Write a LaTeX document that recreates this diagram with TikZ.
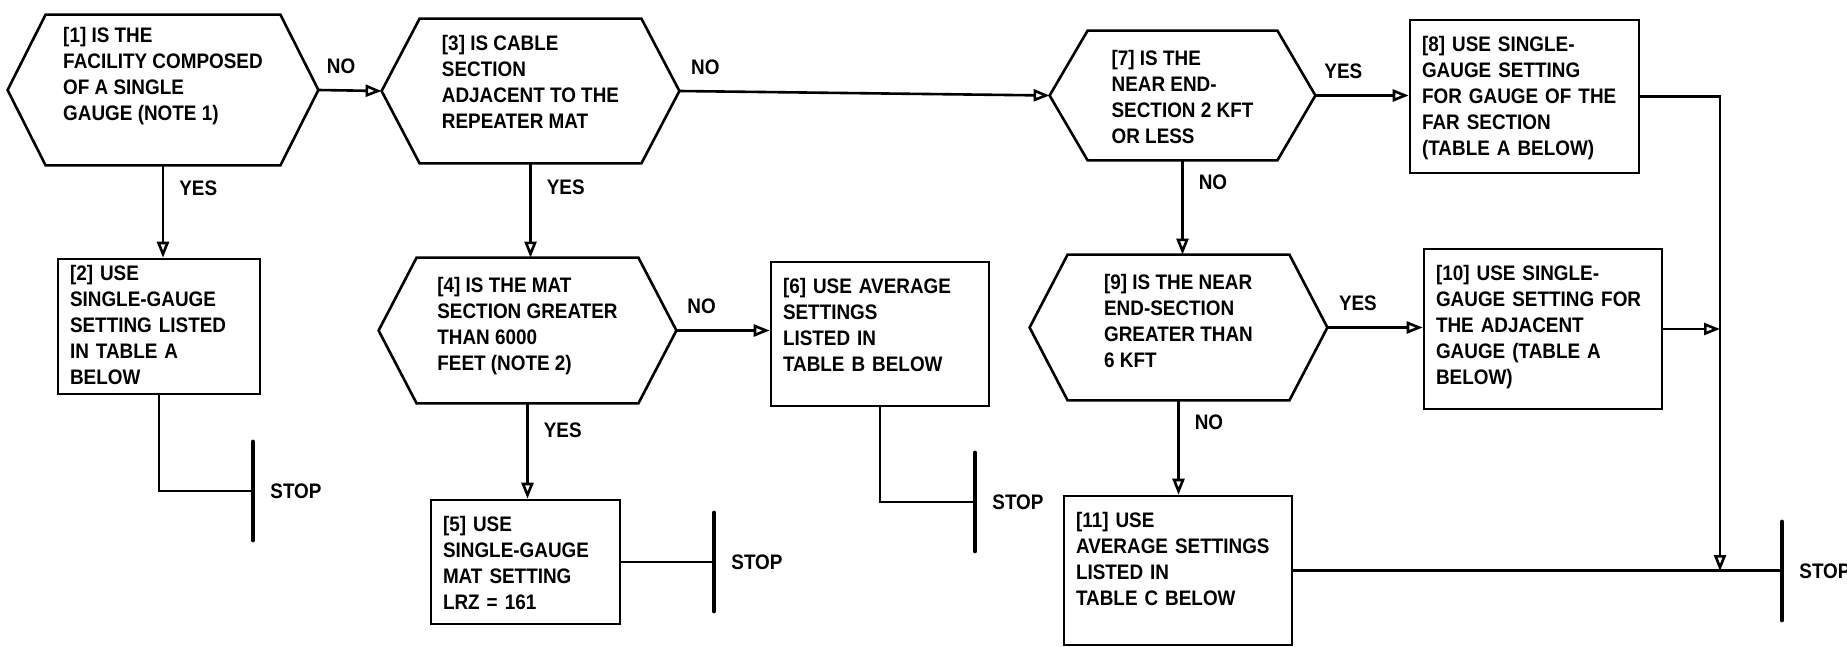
\documentclass[tikz,border=0pt]{standalone}
\usepackage{fontspec}
\setmainfont{Liberation Sans}[FakeStretch=0.9]
\usetikzlibrary{arrows.meta,positioning}

\begin{document}
\begin{tikzpicture}[x=0.5pt, y=-0.5pt, every node/.style={font=\bfseries\fontsize{10.5}{13}\selectfont},
  quest/.style={inner sep=0pt, align=left},
  rbox/.style={draw, line width=1.3pt, inner xsep=6pt, inner ysep=0pt, align=left, text height=15.75pt},
  lbl/.style={inner sep=0pt},
  arr/.style={-{Triangle[open,length=8pt,width=6pt]}, line width=1.3pt},
  link/.style={line width=1.3pt},
  bar/.style={line width=2.4pt, line cap=round}]
  \useasboundingbox (0,0) rectangle (1847,647);
  % decisions
  \node[quest, minimum width=155pt, text height=52.75pt, text depth=22.25pt] (q1) at (163,90) {[1] IS THE\\FACILITY COMPOSED\\OF A SINGLE\\GAUGE (NOTE 1)};
  \node[quest, minimum width=148.5pt, text height=54.75pt, text depth=17.25pt] (q3) at (530.5,91) {[3] IS CABLE\\SECTION\\ADJACENT TO THE\\REPEATER MAT};
  \node[quest, minimum width=148.5pt, text height=56.25pt, text depth=16.25pt] (q4) at (527.5,330.5) {[4] IS THE MAT\\SECTION GREATER\\THAN 6000\\FEET (NOTE 2)};
  \node[quest, minimum width=132.5pt, text height=56.25pt, text depth=8.25pt] (q7) at (1182.5,95.5) {[7] IS THE\\NEAR END-\\SECTION 2 KFT\\OR LESS};
  \node[quest, minimum width=148.5pt, text height=56.25pt, text depth=16.25pt] (q9) at (1178.5,327.5) {[9] IS THE NEAR\\END-SECTION\\GREATER THAN\\6 KFT};
  \foreach \n in {q1,q3,q4,q7,q9}
    \draw[link] ([xshift=19pt]\n.north west) -- ([xshift=-19pt]\n.north east) -- (\n.east)
      -- ([xshift=-19pt]\n.south east) -- ([xshift=19pt]\n.south west) -- (\n.west) -- cycle;
  % actions
  \node[rbox, text width=89pt, text height=10.75pt, text depth=56.75pt] (b2) at (159,326.5) {[2] USE\\SINGLE-GAUGE\\SETTING LISTED\\IN TABLE A\\BELOW};
  \node[rbox, text width=82.5pt, text depth=46.25pt] (b5) at (525.5,562) {[5] USE\\SINGLE-GAUGE\\MAT SETTING\\LRZ = 161};
  \node[rbox, text width=97pt, text depth=56.25pt] (b6) at (880,334) {[6] USE AVERAGE\\SETTINGS\\LISTED IN\\TABLE B BELOW};
  \node[rbox, text width=102.5pt, text depth=60.75pt] (b8) at (1524.5,96.5) {[8] USE SINGLE-\\GAUGE SETTING\\FOR GAUGE OF THE\\FAR SECTION\\(TABLE A BELOW)};
  \node[rbox, text width=107pt, text depth=64.25pt] (b10) at (1543,329) {[10] USE SINGLE-\\GAUGE SETTING FOR\\THE ADJACENT\\GAUGE (TABLE A\\BELOW)};
  \node[rbox, text width=102pt, text depth=58.75pt] (b11) at (1178,570.5) {[11] USE\\AVERAGE SETTINGS\\LISTED IN\\TABLE C BELOW};
  % stops
  \coordinate (e1) at (253,491);
  \coordinate (e2) at (714,562);
  \coordinate (e3) at (975,502);
  \coordinate (e4) at (1782,571);
  \coordinate (j) at (1720,571);
  \foreach \e/\t in {e1/t1,e2/t2,e3/t3,e4/t4}{
    \draw[bar] ([yshift=24.5pt]\e) -- ([yshift=-24.5pt]\e);
    \node[lbl, right=8.5pt of \e] (\t) {STOP};
  }
  % flow
  \draw[arr] (q1.east) -- (q3.west) node[lbl, pos=0.36, above=7.5pt] {NO};
  \draw[arr] (q1.south) -- (q1.south |- b2.north) node[lbl, pos=0.25, right=7.5pt] {YES};
  \draw[link] (b2.south) |- (e1);
  \draw[arr] (q3.south) -- (q3.south |- q4.north) node[lbl, pos=0.25, right=7.5pt] {YES};
  \draw[arr] (q3.east) -- (q7.west) node[lbl, pos=0.07, above=7.5pt] {NO};
  \draw[arr] (q4.east) -- (q4.east -| b6.west) node[lbl, pos=0.27, above=7.5pt] {NO};
  \draw[arr] (q4.south) -- (q4.south |- b5.north) node[lbl, pos=0.28, right=7.5pt] {YES};
  \draw[link] (b5.east) -- (b5.east -| e2);
  \draw[link] (b6.south) |- (e3);
  \draw[arr] (q7.east) -- (q7.east -| b8.west) node[lbl, pos=0.3, above=7.5pt] {YES};
  \draw[arr] (q7.south) -- (q7.south |- q9.north) node[lbl, pos=0.23, right=7.5pt] {NO};
  \draw[arr] (q9.east) -- (q9.east -| b10.west) node[lbl, pos=0.32, above=7.5pt] {YES};
  \draw[arr] (q9.south) -- (q9.south |- b11.north) node[lbl, pos=0.23, right=7.5pt] {NO};
  \draw[arr] (b8.east) -| (j);
  \draw[arr] (b10.east) -- (b10.east -| j);
  \draw[link] (b11.east) -- (b11.east -| e4);
\end{tikzpicture}
\end{document}
